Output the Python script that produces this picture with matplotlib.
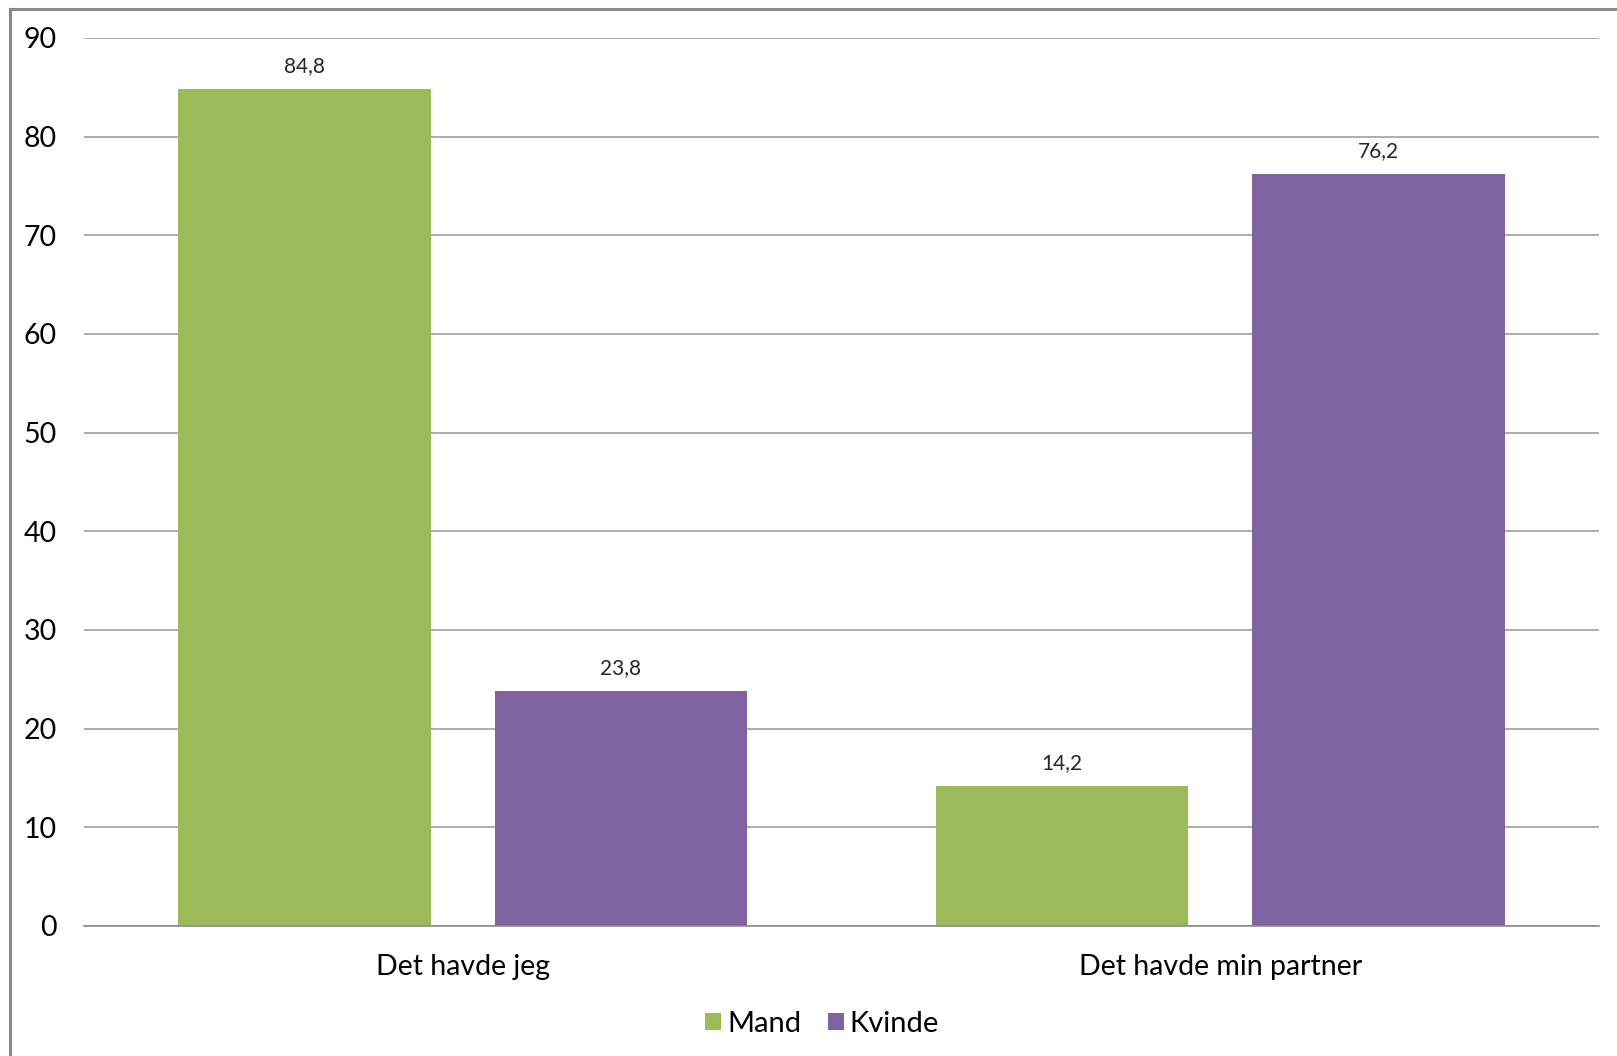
import matplotlib
matplotlib.use("Agg")
import matplotlib.pyplot as plt
from matplotlib.lines import Line2D
import numpy as np

categories = ["Det havde jeg", "Det havde min partner"]
series_names = ["Mand", "Kvinde"]
mand = [84.8, 14.2]
kvinde = [23.8, 76.2]
yticks = [0, 10, 20, 30, 40, 50, 60, 70, 80, 90]

colors = ["#9BBB59", "#8064A2"]

plt.rcParams['font.family'] = ['Lato', 'DejaVu Sans']

W, H = 1617, 1056
fig = plt.figure(figsize=(W / 100, H / 100), dpi=100)
ax = fig.add_axes([84 / W, 1 - 926 / H, (1599 - 84) / W, (926 - 38) / H])

x = np.arange(len(categories))
bw = 0.333
off = 0.2088
b1 = ax.bar(x - off, mand, bw, color=colors[0], label=series_names[0], zorder=3)
b2 = ax.bar(x + off, kvinde, bw, color=colors[1], label=series_names[1], zorder=3)

for bars, vals in ((b1, mand), (b2, kvinde)):
    for rect, v in zip(bars, vals):
        ax.annotate(f"{v:.1f}".replace(".", ","),
                    (rect.get_x() + rect.get_width() / 2, v),
                    xytext=(0, 16.5), textcoords="offset points",
                    ha="center", va="center", fontsize=15, color="#262626")

ax.set_xlim(-0.5, 1.5)
ax.set_ylim(0, 90)
ax.set_yticks(yticks)
ax.set_yticklabels([str(t) for t in yticks], fontsize=20.5, color="#000000")
ax.set_xticks(x)
ax.set_xticklabels(categories, fontsize=20.5, color="#000000")
ax.tick_params(axis="y", length=0, pad=19.5)
ax.tick_params(axis="x", length=0, pad=20)
ax.yaxis.grid(True, color="#A0A0A0", linewidth=1.2, zorder=0)
ax.set_axisbelow(True)
for s in ["left", "right", "top"]:
    ax.spines[s].set_visible(False)
ax.spines["bottom"].set_color("#8C8C8C")
ax.spines["bottom"].set_linewidth(1.2)
ax.spines["bottom"].set_zorder(4)

leg = fig.legend(handles=[b1, b2], labels=series_names, loc="center",
                 bbox_to_anchor=(822 / W, 1 - 1024 / H), ncol=2, frameon=False,
                 fontsize=21, handlelength=0.55, handleheight=0.55,
                 handletextpad=0.2, columnspacing=0.9)

# outer chart frame (cut off at right and bottom)
fig.add_artist(Line2D([10 / W, 10 / W], [0, 1 - 9 / H], transform=fig.transFigure,
                      color="#898989", linewidth=2.2))
fig.add_artist(Line2D([10 / W, 1], [1 - 9 / H, 1 - 9 / H], transform=fig.transFigure,
                      color="#898989", linewidth=2.2))

fig.savefig("out.png", dpi=100, facecolor="white")
